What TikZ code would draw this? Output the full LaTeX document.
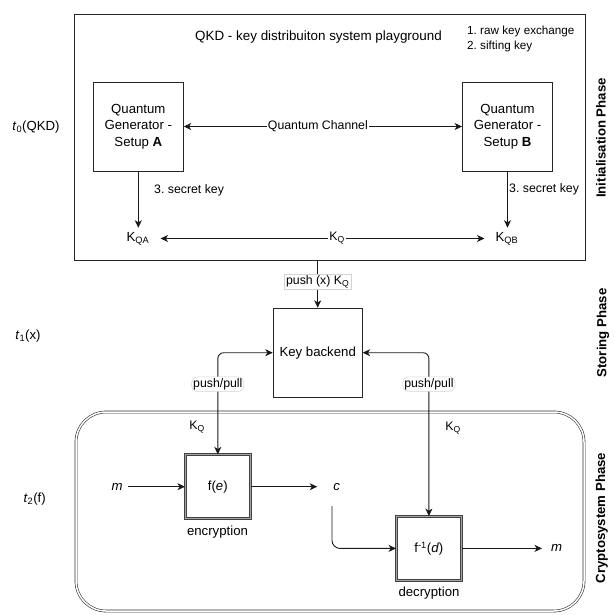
\documentclass[tikz,border=0pt]{standalone}
\usepackage{fontspec}
\setmainfont{Liberation Sans}
\usetikzlibrary{arrows.meta}
\frenchspacing
\newcommand\mainfs{\fontsize{13.2}{16.5}\selectfont}
\newcommand\titlefs{\fontsize{13.4}{16.5}\selectfont}
\newcommand\edgefs{\fontsize{12.3}{15.3}\selectfont}
\newcommand\stepfs{\fontsize{11.7}{15.3}\selectfont}
\begin{document}
\begin{tikzpicture}[x=1pt,y=-1pt,
  box/.style={draw=black!85, line width=0.9pt, fill=white, inner sep=0pt, align=center, font=\mainfs},
  fbox/.style={draw=black!75, double=gray!70, double distance=1.4pt, line width=0.7pt, fill=white, inner sep=0pt, align=center, font=\mainfs, minimum width=65pt, minimum height=64pt},
  cryptobox/.style={draw=black!80, double=white, double distance=1.5pt, line width=0.6pt, rounded corners=30pt, inner sep=0pt},
  txt/.style={font=\mainfs, inner sep=0pt},
  elbl/.style={font=\edgefs, fill=white, inner sep=1pt},
  ppl/.style={font=\edgefs, fill=white, draw=gray!35, line width=0.5pt, inner sep=1.5pt},
  arr/.style={-{Stealth[length=7.5pt,width=7pt,inset=2.2pt]}, line width=0.9pt, draw=black!90},
  biarr/.style={{Stealth[length=7.5pt,width=7pt,inset=2.2pt]}-{Stealth[length=7.5pt,width=7pt,inset=2.2pt]}, line width=0.9pt, draw=black!90},
  phase/.style={rotate=90, font=\bfseries\mainfs, inner sep=0pt}
]
\useasboundingbox (0,0) rectangle (614,615);

% ---------- Initialisation phase ----------
\node[box, minimum width=510.3pt, minimum height=245.3pt] (qkd) at (329.85,137.35) {};
\node[font=\titlefs, inner sep=0pt] (title) at (318.5,37) {QKD - key distribuiton system playground};
\node[anchor=north west, align=left, font=\stepfs, inner sep=0pt] (steps) at (467,25.5) {1. raw key exchange\\2. sifting key};

\node[box, minimum width=90pt, minimum height=89pt] (ga) at (138.3,126.5) {Quantum\\Generator -\\Setup \textbf{A}};
\node[box, minimum width=90pt, minimum height=89pt] (gb) at (507.5,126.5) {Quantum\\Generator -\\Setup \textbf{B}};

\draw[biarr] (ga) -- (gb) node[elbl, pos=0.482] (qc) {Quantum Channel};

\node[font=\mainfs, inner sep=4pt, anchor=base] (kqa) at (138,241) {K\textsubscript{QA}};
\node[font=\mainfs, inner sep=4pt, anchor=base] (kqb) at (507,241) {K\textsubscript{QB}};

\draw[arr] (ga.south) -- (ga.south |- kqa.north);
\draw[arr] (gb.south) -- (gb.south |- kqb.north);
\node[font=\edgefs, anchor=west, inner sep=0pt] (ska) at (154,190) {3. secret key};
\node[font=\edgefs, anchor=west, inner sep=0pt] (skb) at (509,189.5) {3. secret key};

\draw[biarr] ([xshift=7pt]kqa.east) -- ([xshift=-7pt]kqb.west) node[elbl, pos=0.545] (kq) {K\textsubscript{Q}};

\node[phase] (ph1) at (601,138) {Initialisation Phase};
\node[txt] (t0) at (36,127) {\textit{t}\textsubscript{0}(QKD)};

% ---------- Storing phase ----------
\node[box, minimum width=89pt, minimum height=89pt] (kb) at (317.7,352.7) {Key backend};
\draw[arr] (kb.north |- qkd.south) -- (kb.north) node[ppl, pos=0.45] (push) {push (x) K\textsubscript{Q}};

\node[phase] (ph2) at (603,333) {Storing Phase};
\node[txt] (t1) at (28,336) {\textit{t}\textsubscript{1}(x)};

% ---------- Cryptosystem phase ----------
\node[cryptobox, minimum width=508pt, minimum height=199pt] (cs) at (330,511.5) {};

\node[fbox] (fe) at (217.8,486.7) {f(\textit{e})};
\node[fbox] (fd) at (428.9,548.4) {f\textsuperscript{-1}(\textit{d})};
\node[txt] (enc) at (217.5,532) {encryption};
\node[txt] (dec) at (429,593) {decryption};

\draw[biarr, rounded corners=6pt] (kb.west) -| (fe.north) node[ppl, pos=0.655] (pp1) {push/pull};
\draw[biarr, rounded corners=6pt] (kb.east) -| (fd.north) node[ppl, pos=0.596] (pp2) {push/pull};
\node[font=\edgefs, inner sep=0pt] (kq1) at (197,427) {K\textsubscript{Q}};
\node[font=\edgefs, inner sep=0pt] (kq2) at (453,428) {K\textsubscript{Q}};

\node[txt] (m1) at (117,486.7) {\textit{m}};
\node[txt] (cc) at (336.7,486.7) {\textit{c}};
\node[txt] (m2) at (556.7,548.4) {\textit{m}};
\draw[arr, shorten <=5.5pt] (m1) -- (fe);
\draw[arr, shorten >=16pt] (fe) -- (cc);
\coordinate (cstart) at (332,506);
\draw[arr, rounded corners=8pt] (cstart) |- (fd.west);
\draw[arr, shorten >=9pt] (fd) -- (m2);

\node[phase] (ph3) at (601.7,518) {Cryptosystem Phase};
\node[txt] (t2) at (34.7,499) {\textit{t}\textsubscript{2}(f)};
\end{tikzpicture}
\end{document}
